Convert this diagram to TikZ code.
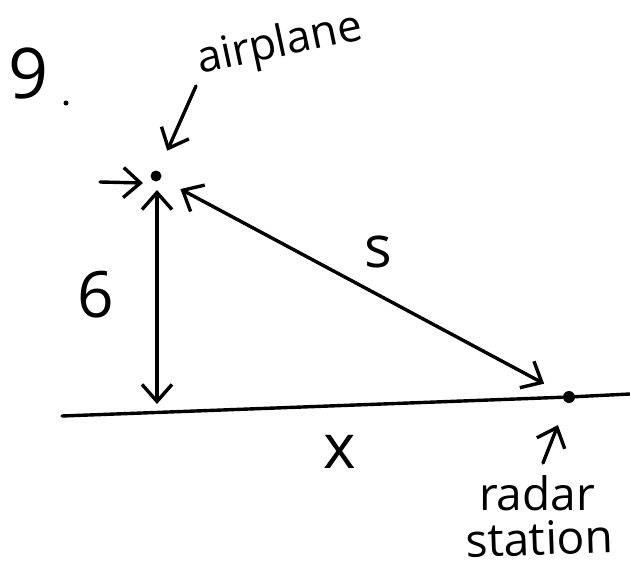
\documentclass[tikz,border=0pt]{standalone}
\usepackage{fontspec}
\setmainfont{Open Sans}
\usetikzlibrary{arrows.meta}
\tikzset{
  pen/.style={line width=3.4pt, line cap=round, line join=round},
  barb/.tip={Straight Barb[length=17pt,width=30pt,line width=3.4pt]},
  tip/.style={-barb},
  dbl/.style={barb-barb},
  dot/.style={circle, fill=black, inner sep=0pt, minimum size=11pt},
  hand/.style={inner sep=0pt, font=\fontsize{#1}{#1}\selectfont}
}
\begin{document}
\begin{tikzpicture}[x=1pt,y=-1pt]
\useasboundingbox[fill=white] (0,0) rectangle (630,573);
% labels
\node[hand=70, anchor=base west] (num) at (8,98) {9};
\node[dot, minimum size=5pt] (numdot) at (66,103) {};
\node[hand=44, rotate=12, anchor=base west] (airlabel) at (200,74) {airplane};
\node[hand=64] (six) at (96,295) {6};
\node[hand=58] (slab) at (378,252) {s};
\node[hand=62] (xlab) at (340,452) {x};
\node[hand=46, anchor=base] (radarlab) at (537,510) {radar};
\node[hand=46, anchor=base, rotate=2] (stationlab) at (540,555) {station};
% points
\node[dot] (plane) at (156,176) {};
\node[dot, minimum size=12pt] (radar) at (569,397) {};
\coordinate (gl) at (62,416);
\coordinate (gr) at (630,394);
\coordinate (vtop) at (157,190);
\coordinate (vbot) at (157,404);
\coordinate (airtail) at (196,86);
\coordinate (lefttail) at (100,182);
\coordinate (lefttip) at (143,183);
\coordinate (radartail) at (543,463);
% ground
\draw[pen] (gl) -- (radar) -- (gr);
% height arrow
\draw[pen, dbl] (vtop) -- (vbot);
% slant distance
\draw[pen, dbl, shorten <=22pt, shorten >=22pt] (plane) -- (radar);
% pointer arrows
\draw[pen, tip, shorten >=22pt] (airtail) -- (plane);
\draw[pen, tip] (lefttail) -- (lefttip);
\draw[pen, tip, shorten >=24pt] (radartail) -- (radar);
\end{tikzpicture}
\end{document}
